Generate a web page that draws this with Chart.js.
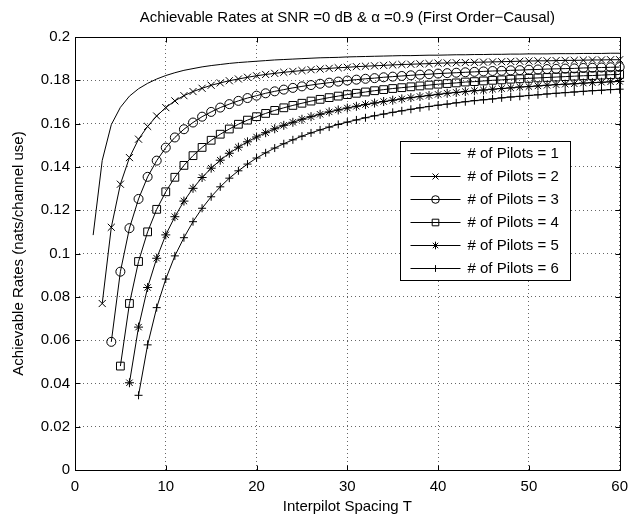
<!DOCTYPE html>
<html lang="en">
<head>
    <meta charset="UTF-8">
    <title>Achievable Rates</title>
    <style>
        html, body {
            margin: 0;
            padding: 0;
            background: #fff;
        }
        .wrap {
            width: 636px;
            height: 517px;
        }
    </style>
</head>
<body>
    <div class="wrap">
        <canvas id="chart" width="636" height="517"></canvas>
    </div>

    <script src="https://cdn.jsdelivr.net/npm/chart.js"></script>
    <script>
        // Interpilot spacing T (x values)
        const spacingT = [1, 2, 3, 4, 5, 6, 7, 8, 9, 10, 11, 12, 13, 14, 15, 16, 17, 18, 19, 20,
            21, 22, 23, 24, 25, 26, 27, 28, 29, 30, 31, 32, 33, 34, 35, 36, 37, 38, 39, 40,
            41, 42, 43, 44, 45, 46, 47, 48, 49, 50, 51, 52, 53, 54, 55, 56, 57, 58, 59, 60];

        const pilots = [1, 2, 3, 4, 5, 6];

        // each series starts at T = pilots + 1
        const rates1 = [0.1085, 0.1430, 0.1595, 0.1675, 0.1727, 0.1761, 0.1786, 0.1806, 0.1822, 0.1835,
            0.1846, 0.1854, 0.1862, 0.1868, 0.1873, 0.1878, 0.1882, 0.1885, 0.1888, 0.1891,
            0.1894, 0.1896, 0.1898, 0.1900, 0.1902, 0.1904, 0.1905, 0.1906, 0.1908, 0.1909,
            0.1910, 0.1911, 0.1912, 0.1913, 0.1914, 0.1914, 0.1915, 0.1916, 0.1916, 0.1917,
            0.1918, 0.1918, 0.1919, 0.1919, 0.1920, 0.1920, 0.1921, 0.1921, 0.1922, 0.1922,
            0.1922, 0.1923, 0.1923, 0.1923, 0.1924, 0.1924, 0.1924, 0.1925, 0.1925];
        const rates2 = [0.0769, 0.1121, 0.1320, 0.1443, 0.1528, 0.1587, 0.1635, 0.1674, 0.1705, 0.1729,
            0.1748, 0.1763, 0.1777, 0.1788, 0.1798, 0.1806, 0.1814, 0.1821, 0.1827, 0.1832,
            0.1837, 0.1841, 0.1845, 0.1849, 0.1852, 0.1855, 0.1858, 0.1860, 0.1863, 0.1865,
            0.1867, 0.1869, 0.1871, 0.1873, 0.1874, 0.1876, 0.1877, 0.1879, 0.1880, 0.1881,
            0.1882, 0.1883, 0.1884, 0.1885, 0.1886, 0.1887, 0.1888, 0.1889, 0.1890, 0.1890,
            0.1891, 0.1892, 0.1892, 0.1893, 0.1894, 0.1894, 0.1895, 0.1895];
        const rates3 = [0.0592, 0.0916, 0.1117, 0.1252, 0.1354, 0.1429, 0.1489, 0.1536, 0.1574, 0.1605,
            0.1632, 0.1654, 0.1674, 0.1690, 0.1705, 0.1718, 0.1729, 0.1740, 0.1749, 0.1757,
            0.1765, 0.1772, 0.1778, 0.1784, 0.1789, 0.1794, 0.1799, 0.1803, 0.1807, 0.1810,
            0.1814, 0.1817, 0.1820, 0.1823, 0.1826, 0.1828, 0.1831, 0.1833, 0.1835, 0.1837,
            0.1839, 0.1841, 0.1843, 0.1844, 0.1846, 0.1847, 0.1849, 0.1850, 0.1852, 0.1853,
            0.1854, 0.1855, 0.1857, 0.1858, 0.1859, 0.1860, 0.1861];
        const rates4 = [0.0480, 0.0769, 0.0963, 0.1100, 0.1204, 0.1285, 0.1352, 0.1407, 0.1452, 0.1490,
            0.1523, 0.1551, 0.1575, 0.1597, 0.1616, 0.1632, 0.1647, 0.1661, 0.1673, 0.1684,
            0.1694, 0.1704, 0.1712, 0.1720, 0.1727, 0.1734, 0.1740, 0.1746, 0.1752, 0.1757,
            0.1762, 0.1766, 0.1770, 0.1774, 0.1778, 0.1782, 0.1785, 0.1788, 0.1792, 0.1794,
            0.1797, 0.1800, 0.1802, 0.1805, 0.1807, 0.1809, 0.1811, 0.1813, 0.1815, 0.1817,
            0.1819, 0.1821, 0.1822, 0.1824, 0.1826, 0.1827];
        const rates5 = [0.0403, 0.0660, 0.0843, 0.0978, 0.1086, 0.1170, 0.1242, 0.1301, 0.1351, 0.1394,
            0.1431, 0.1463, 0.1491, 0.1516, 0.1538, 0.1558, 0.1576, 0.1592, 0.1606, 0.1620,
            0.1632, 0.1643, 0.1654, 0.1663, 0.1672, 0.1680, 0.1688, 0.1695, 0.1702, 0.1708,
            0.1714, 0.1720, 0.1725, 0.1730, 0.1735, 0.1740, 0.1744, 0.1748, 0.1752, 0.1755,
            0.1759, 0.1762, 0.1765, 0.1769, 0.1771, 0.1774, 0.1777, 0.1780, 0.1782, 0.1784,
            0.1787, 0.1789, 0.1791, 0.1793, 0.1795];
        const rates6 = [0.0345, 0.0578, 0.0750, 0.0882, 0.0989, 0.1073, 0.1147, 0.1209, 0.1262, 0.1308,
            0.1348, 0.1382, 0.1413, 0.1441, 0.1465, 0.1487, 0.1507, 0.1525, 0.1542, 0.1557,
            0.1571, 0.1584, 0.1596, 0.1607, 0.1617, 0.1627, 0.1636, 0.1644, 0.1652, 0.1659,
            0.1666, 0.1673, 0.1679, 0.1685, 0.1690, 0.1696, 0.1701, 0.1706, 0.1710, 0.1714,
            0.1719, 0.1723, 0.1726, 0.1730, 0.1733, 0.1737, 0.1740, 0.1743, 0.1746, 0.1749,
            0.1752, 0.1754, 0.1757, 0.1759];

        const xTickLabels = ['0', '10', '20', '30', '40', '50', '60'];
        const yTickLabels = ['0', '0.02', '0.04', '0.06', '0.08', '0.1', '0.12', '0.14', '0.16', '0.18', '0.2'];

        const titleText = 'Achievable Rates at SNR =0 dB & \u03b1 =0.9 (First Order\u2212Causal)';
        const FONT = '"Liberation Sans", Arial, Helvetica, sans-serif';
        const FS = 15;

        const allRates = [rates1, rates2, rates3, rates4, rates5, rates6];
        const markers = [false, 'crossRot', 'circle', 'rect', 'star', 'cross'];
        const markerSize = [0, 5, 4.5, 5.5, 4.5, 4];

        Chart.defaults.font.family = FONT;
        Chart.defaults.color = '#000';

        const datasets = allRates.map((rates, k) => ({
            label: '# of Pilots = ' + pilots[k],
            data: rates.map((v, i) => ({ x: spacingT[pilots[k] + i], y: v })),
            borderColor: '#000',
            borderWidth: 1,
            pointStyle: markers[k],
            pointRadius: markerSize[k],
            pointBorderWidth: 1,
            pointBorderColor: '#000',
            pointBackgroundColor: 'rgba(0,0,0,0)',
            fill: false,
            tension: 0,
            clip: 8
        }));

        // box, inner ticks, title and legend like a matlab figure
        const matlabFrame = {
            id: 'matlabFrame',
            afterDraw(chart) {
                const { ctx, chartArea: a, scales } = chart;
                ctx.save();
                ctx.strokeStyle = '#000';
                ctx.lineWidth = 1;
                const L = Math.round(a.left) + 0.5, R = Math.round(a.right) + 0.5;
                const T = Math.round(a.top) + 0.5, B = Math.round(a.bottom) + 0.5;
                ctx.strokeRect(L, T, R - L, B - T);

                const len = 5;
                ctx.beginPath();
                scales.x.ticks.forEach(t => {
                    const px = Math.round(scales.x.getPixelForValue(t.value)) + 0.5;
                    ctx.moveTo(px, B); ctx.lineTo(px, B - len);
                    ctx.moveTo(px, T); ctx.lineTo(px, T + len);
                });
                scales.y.ticks.forEach(t => {
                    const py = Math.round(scales.y.getPixelForValue(t.value)) + 0.5;
                    ctx.moveTo(L, py); ctx.lineTo(L + len, py);
                    ctx.moveTo(R, py); ctx.lineTo(R - len, py);
                });
                ctx.stroke();

                // title centred over the axes
                ctx.fillStyle = '#000';
                ctx.font = FS + 'px ' + FONT;
                ctx.textAlign = 'center';
                ctx.textBaseline = 'middle';
                ctx.fillText(titleText, (a.left + a.right) / 2, 18);

                // legend box
                const bx = 400.5, by = 141.5, bw = 170, bh = 139, row = 23;
                ctx.fillStyle = '#fff';
                ctx.fillRect(bx, by, bw, bh);
                ctx.strokeRect(bx, by, bw, bh);
                ctx.textAlign = 'left';
                chart.data.datasets.forEach((ds, i) => {
                    const y = Math.round(by + 11 + i * row) + 0.5;
                    ctx.beginPath();
                    ctx.moveTo(bx + 10, y);
                    ctx.lineTo(bx + 60, y);
                    ctx.stroke();
                    if (ds.pointStyle && Chart.helpers && Chart.helpers.drawPoint) {
                        ctx.fillStyle = 'rgba(0,0,0,0)';
                        Chart.helpers.drawPoint(ctx, {
                            pointStyle: ds.pointStyle,
                            rotation: 0,
                            radius: ds.pointRadius * 0.85,
                            borderWidth: 1
                        }, bx + 35, y);
                    }
                    ctx.fillStyle = '#000';
                    ctx.fillText(ds.label, bx + 67, y);
                });
                ctx.restore();
            }
        };

        const ctx = document.getElementById('chart').getContext('2d');
        new Chart(ctx, {
            type: 'line',
            data: { datasets: datasets },
            options: {
                responsive: false,
                animation: false,
                devicePixelRatio: 1,
                layout: { padding: { left: 0, right: 15, top: 37, bottom: 0 } },
                plugins: {
                    legend: { display: false },
                    tooltip: { enabled: false },
                    title: { display: false }
                },
                scales: {
                    x: {
                        type: 'linear',
                        min: 0,
                        max: 60,
                        ticks: {
                            stepSize: 10,
                            maxRotation: 0,
                            padding: 8,
                            font: { size: FS },
                            callback: (v, i) => xTickLabels[i]
                        },
                        grid: { color: 'rgba(0,0,0,0.6)', drawTicks: false },
                        border: { display: false, dash: [1, 3] },
                        title: {
                            display: true,
                            text: 'Interpilot Spacing T',
                            font: { size: FS },
                            padding: { top: 0, bottom: 1 }
                        },
                        afterFit: s => { s.height = 47; }
                    },
                    y: {
                        min: 0,
                        max: 0.2,
                        ticks: {
                            stepSize: 0.02,
                            padding: 5,
                            font: { size: FS },
                            callback: (v, i) => yTickLabels[i]
                        },
                        grid: { color: 'rgba(0,0,0,0.6)', drawTicks: false },
                        border: { display: false, dash: [1, 3] },
                        title: {
                            display: true,
                            text: 'Achievable Rates (nats/channel use)',
                            font: { size: FS },
                            padding: { top: 10, bottom: 0 }
                        },
                        afterFit: s => { s.width = 75; }
                    }
                }
            },
            plugins: [matlabFrame]
        });
    </script>
</body>
</html>
